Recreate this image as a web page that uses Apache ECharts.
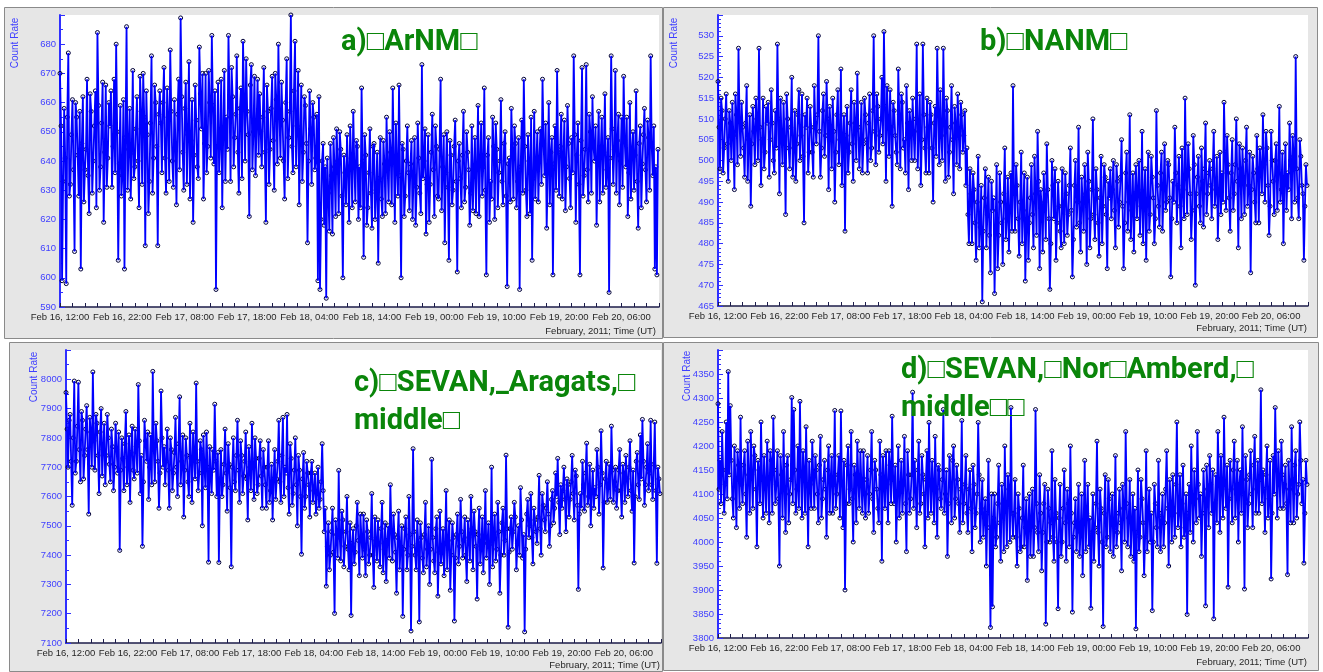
<!DOCTYPE html>
<html lang="en">
<head>
<meta charset="utf-8">
<title>Count rates, February 2011</title>
<script src="https://cdn.jsdelivr.net/npm/echarts@6/dist/echarts.min.js"></script>
<style>
  html, body { margin: 0; padding: 0; background: #fff; }
  #main { width: 1323px; height: 672px; }
</style>
</head>
<body>
<div id="main"></div>
<script>
// samples every 10 minutes, starting Feb 16, 12:00 UT (one line = 8 hours)
var stepHours = 1 / 6;

// a) ArNM
var arnm = [
  670,652,599,633,658,641,598,655,677,628,632,649,661,637,609,660,655,642,628,657,603,646,662,626,637,644,668,635,622,663,657,629,640,652,664,624,684,659,630,638,653,667,619,643,666,631,641,660,
  652,664,631,645,668,636,680,650,606,639,659,628,635,661,603,648,686,630,644,658,627,643,671,634,638,651,662,640,624,669,657,632,670,655,611,664,649,622,633,653,676,629,641,666,660,645,611,656,
  664,653,636,660,672,641,629,665,655,633,678,657,640,631,661,646,625,656,668,637,689,662,643,630,658,667,632,649,674,627,647,661,619,642,666,654,638,634,679,663,651,670,627,646,670,636,645,671,
  660,641,683,659,639,664,596,645,667,636,646,668,624,650,671,633,655,644,683,661,633,672,662,638,648,656,676,643,629,658,665,634,681,662,640,675,657,649,621,666,673,637,650,669,635,652,668,642,
  663,650,638,655,672,643,619,666,657,632,644,658,669,647,630,670,661,639,680,656,641,667,654,640,627,660,675,634,648,657,690,645,636,664,681,638,652,671,625,648,666,633,643,662,659,646,612,640,
  664,651,632,660,655,637,641,656,599,662,596,620,640,646,618,638,593,641,629,616,646,635,615,648,638,621,651,640,622,650,644,628,600,642,636,625,649,637,619,652,641,624,657,639,626,647,645,620,
  638,624,665,640,607,649,642,618,624,636,651,629,617,645,646,620,630,643,605,634,648,627,621,647,639,622,655,638,626,650,643,625,665,641,619,653,637,628,666,635,600,646,644,621,628,640,652,636,
  623,639,647,620,635,648,618,631,653,641,629,622,673,634,640,651,615,632,649,619,632,643,656,637,621,652,645,628,627,644,668,623,638,649,612,636,650,631,606,647,642,625,630,645,654,633,602,640,
  646,634,624,642,657,626,631,650,643,637,618,629,652,623,637,648,622,639,659,621,640,653,628,638,665,630,601,642,648,619,633,627,655,645,620,653,644,624,636,640,661,633,625,646,650,628,597,639,
  641,626,658,644,627,652,646,624,633,648,596,638,654,629,668,645,630,621,649,640,622,655,606,634,657,627,639,650,626,641,651,632,668,646,635,653,617,636,660,625,643,648,601,639,652,630,671,643,
  628,645,656,627,641,654,623,638,659,646,634,624,648,636,676,649,619,642,653,632,601,647,672,628,635,644,673,637,626,656,650,629,662,645,640,652,618,641,657,626,644,655,629,643,663,631,637,648,
  595,641,676,651,632,644,671,629,647,656,625,640,655,631,669,647,638,655,621,636,660,627,644,650,630,642,664,633,617,646,652,624,639,649,658,637,626,654,648,630,676,645,635,652,603,638,601,644
];

// b) NANM
var nanm = [
  519,508,498,515,512,497,503,510,516,504,495,512,509,500,514,506,493,516,511,499,527,510,501,514,508,503,496,509,518,495,505,511,489,504,513,507,499,515,510,500,527,508,494,505,515,498,502,513,
  509,514,496,505,517,509,500,497,512,503,528,510,492,515,506,499,514,505,487,516,510,503,498,508,520,496,503,512,495,504,511,517,500,506,516,501,485,511,508,515,497,502,513,508,502,496,518,509,
  504,511,530,507,496,503,512,516,501,506,519,510,493,513,508,498,515,507,490,502,511,517,499,505,522,494,505,511,483,506,513,497,502,509,517,504,495,514,509,500,521,508,498,505,514,497,504,515,
  511,505,497,509,516,500,503,512,530,507,499,516,513,502,506,510,520,504,531,513,495,518,510,501,517,508,489,514,512,506,502,499,522,511,498,516,514,503,505,497,518,509,493,512,509,500,515,507,
  500,510,528,498,507,516,494,505,528,511,503,497,515,508,497,514,511,503,490,509,513,501,527,512,499,517,506,500,527,509,495,515,512,496,502,508,518,505,492,513,509,499,516,507,498,514,511,502,
  506,512,494,503,487,480,498,492,480,497,493,485,476,490,501,479,484,494,466,483,491,498,479,487,496,482,473,495,488,491,468,484,499,474,482,497,490,485,475,492,503,481,486,496,478,488,497,483,
  518,492,483,499,494,486,477,490,502,480,488,497,471,484,496,476,485,491,499,487,479,501,492,482,507,495,474,493,489,478,497,490,481,504,493,486,469,480,500,494,486,498,476,485,495,489,483,479,
  498,489,480,497,492,482,487,494,503,488,472,481,494,500,484,490,508,485,478,496,490,483,499,492,475,502,495,479,486,493,510,487,481,498,493,485,477,491,501,480,489,499,496,487,474,495,491,498,
  486,493,500,488,479,499,495,484,490,496,505,489,474,485,497,502,483,490,511,481,488,497,478,492,499,486,493,500,482,489,507,480,491,498,476,490,502,483,487,501,496,491,480,486,512,494,489,484,
  497,502,483,493,504,488,490,500,499,491,472,486,495,490,508,497,485,494,501,489,479,503,493,486,515,496,487,504,498,492,481,488,506,499,470,492,496,501,489,485,503,495,484,498,509,487,492,497,
  500,494,486,498,507,489,493,501,481,492,502,487,497,490,514,502,488,506,499,491,483,497,505,488,492,499,510,495,479,504,498,486,503,496,487,500,508,489,494,502,473,493,501,497,490,485,506,498,
  485,503,498,492,511,499,490,507,503,494,482,489,507,500,495,487,500,504,488,497,513,490,493,502,480,496,504,488,497,493,509,500,486,506,501,490,525,498,491,486,505,501,494,492,476,489,499,494
];

// c) SEVAN, Aragats, middle
var sevanAragats = [
  7955,7830,7700,7860,7880,7720,7570,7800,7994,7680,7720,7840,7990,7760,7650,7890,7860,7660,7740,7830,7910,7760,7540,7870,7820,7700,8025,7790,7690,7880,7850,7740,7610,7820,7900,7670,7760,7850,7640,7740,7880,7800,7710,7650,7830,7770,7620,7700,
  7850,7760,7680,7820,7416,7690,7800,7730,7620,7780,7890,7640,7700,7810,7580,7750,7840,7690,7660,7830,7770,7680,7982,7790,7610,7740,7430,7650,7860,7790,7720,7820,7590,7700,7810,7640,8027,7760,7650,7850,7790,7720,7560,7680,7960,7800,7700,7770,
  7640,7720,7830,7690,7560,7800,7760,7620,7680,7750,7870,7700,7600,7780,7940,7640,7720,7810,7530,7690,7800,7740,7650,7600,7850,7730,7580,7820,7740,7660,7987,7720,7620,7680,7790,7760,7500,7810,7700,7630,7820,7700,7376,7770,7680,7610,7760,7690,
  7915,7720,7600,7750,7375,7660,7760,7600,7640,7710,7830,7680,7550,7780,7710,7630,7360,7700,7800,7650,7620,7740,7860,7690,7580,7790,7740,7610,7670,7720,7820,7660,7520,7770,7700,7620,7850,7700,7590,7800,7730,7610,7640,7730,7790,7670,7560,7760,
  7700,7640,7560,7700,7790,7580,7620,7710,7520,7660,7760,7590,7660,7720,7860,7650,7580,7740,7870,7600,7700,7680,7880,7630,7540,7780,7730,7570,7610,7690,7800,7640,7500,7740,7690,7600,7403,7660,7750,7560,7600,7720,7680,7640,7530,7680,7720,7580,
  7620,7680,7540,7610,7700,7560,7590,7650,7780,7620,7480,7560,7294,7430,7510,7350,7400,7480,7560,7410,7201,7520,7470,7390,7689,7460,7380,7550,7520,7360,7430,7480,7600,7420,7350,7510,7194,7440,7490,7370,7410,7500,7580,7450,7330,7540,7460,7390,
  7540,7420,7330,7520,7480,7370,7400,7460,7610,7400,7290,7530,7450,7380,7520,7440,7360,7490,7580,7340,7420,7510,7310,7450,7500,7390,7640,7480,7380,7540,7470,7410,7270,7460,7550,7350,7430,7500,7191,7420,7490,7530,7350,7400,7600,7470,7141,7430,
  7763,7480,7400,7350,7520,7440,7172,7510,7460,7390,7340,7470,7580,7360,7420,7500,7300,7420,7727,7460,7380,7340,7490,7530,7260,7410,7550,7370,7410,7490,7330,7440,7620,7350,7450,7520,7280,7400,7510,7460,7175,7390,7470,7540,7370,7430,7590,7480,
  7390,7450,7530,7400,7310,7520,7460,7380,7600,7490,7350,7550,7480,7430,7250,7470,7560,7370,7420,7530,7340,7460,7620,7390,7440,7510,7300,7440,7700,7360,7470,7540,7380,7420,7580,7480,7270,7400,7510,7560,7400,7450,7741,7490,7154,7410,7490,7530,
  7420,7480,7580,7530,7350,7440,7500,7400,7630,7520,7390,7470,7138,7420,7540,7590,7460,7500,7610,7460,7370,7560,7520,7480,7440,7530,7672,7490,7400,7610,7570,7520,7480,7560,7650,7540,7430,7500,7590,7620,7510,7560,7680,7600,7730,7580,7470,7640,
  7560,7620,7700,7590,7480,7660,7640,7530,7590,7650,7740,7610,7520,7690,7670,7570,7283,7540,7610,7560,7720,7640,7550,7680,7782,7570,7600,7710,7500,7620,7690,7560,7630,7600,7760,7700,7540,7640,7824,7680,7356,7580,7660,7720,7580,7630,7710,7590,
  7840,7690,7580,7650,7700,7560,7620,7690,7760,7620,7530,7710,7680,7580,7740,7660,7600,7700,7790,7620,7550,7690,7373,7600,7720,7750,7640,7590,7810,7660,7863,7720,7570,7640,7700,7780,7620,7680,7860,7640,7590,7710,7854,7620,7372,7700,7660,7610
];

// d) SEVAN, Nor Amberd, middle
var sevanNorAmberd = [
  4288,4110,4170,4080,4230,4150,4060,4120,4250,4090,4355,4140,4284,4170,4090,4050,4200,4130,4030,4190,4160,4070,4260,4120,4080,4160,4190,4100,4010,4210,4140,4060,4230,4140,4070,4200,4180,4110,3990,4170,4150,4080,4250,4130,4050,4180,4120,4060,
  4210,4130,4040,4190,4170,4060,4260,4150,4080,4120,4190,4090,3950,4180,4140,4050,4230,4110,4020,4160,4180,4040,4100,4130,4301,4080,4276,4150,4060,4110,4200,4070,4293,4140,4050,4190,4150,4060,4240,4120,3990,4170,4120,4070,4210,4140,4070,4180,
  4150,4100,4040,4160,4220,4050,4090,4130,4170,4110,4010,4150,4200,4060,4130,4180,4060,4120,4274,4070,4100,4140,4180,4050,4273,4120,4030,4170,3900,4080,4160,4200,4080,4110,4230,4090,4000,4160,4140,4040,4210,4130,4070,4190,4120,4060,4190,4100,
  4050,4130,4180,4060,4100,4150,4230,4090,4020,4170,4150,4110,4070,4040,4210,4140,3960,4180,4130,4070,4190,4120,4040,4190,4160,4080,4262,4130,4080,4160,4000,4100,4200,4050,4110,4170,4060,4120,4220,4080,3980,4190,4140,4060,4090,4140,4312,4070,
  4170,4110,4030,4150,4210,4060,4080,4180,4140,4100,3990,4130,4190,4050,4249,4120,4060,4170,4120,4040,4220,4110,4010,4160,4150,4090,4070,4130,4276,4060,4100,4150,3970,4080,4180,4120,4040,4170,4200,4050,4090,4160,4130,4080,4020,4110,4253,4040,
  4080,4120,4180,4060,4020,4110,4150,4070,3980,4160,4120,4030,4060,4100,4249,4140,4000,4070,4130,4010,4050,4090,3950,4060,4170,4030,3822,4100,3865,4050,4100,3990,4010,4080,4160,4040,3960,4120,4080,3980,4200,4070,3990,4140,4110,4000,4280,4060,
  4010,4060,4130,4010,3950,4100,4070,3980,3990,4050,4160,3990,4030,4090,3920,4040,4100,3970,4050,4110,3970,4030,4276,4080,4020,3980,4140,4060,3940,4020,4080,4120,3829,4000,4110,4070,4000,4040,4190,4010,3960,4130,4060,4000,3861,4050,4120,3970,
  4000,4070,4150,4040,3960,4110,4080,3990,4200,4060,3854,4010,4040,4090,3980,4030,4120,3970,4020,4100,3930,4040,4170,3980,4060,4120,3990,4050,3862,4020,4100,3960,4030,4080,4210,4020,3950,4110,4070,4000,3824,4060,4140,3990,4010,4130,4090,3980,
  4050,4100,3970,4030,4180,3990,4020,4060,4110,4040,3940,4120,4070,4000,4230,4080,3990,4050,4130,3970,4040,4100,3960,4070,3819,4020,4150,3980,4010,4130,4090,4040,3930,4010,4190,3980,4060,4110,4000,4060,3857,4000,4120,4080,4030,3990,4170,4060,
  3980,4050,4100,3990,4040,4110,4190,4070,3950,4130,4080,4000,4140,4060,4010,4120,4250,4030,4060,4140,3990,4080,4160,4010,4030,4100,3849,4060,4120,4020,4200,4090,4000,4150,4090,4040,4230,4120,4050,4100,3970,4060,4150,4090,3867,4160,4110,4030,
  4180,4120,4060,4150,3840,4080,4140,4040,4230,4130,4020,4180,4110,4050,4260,4120,4070,4160,3906,4090,4170,4110,4040,4150,4210,4050,4100,4170,4000,4120,4150,4060,4240,4100,3902,4180,4130,4030,4080,4140,4190,4100,4030,4160,4220,4060,4110,4170,
  4060,4130,4317,4080,4150,4110,4020,4140,4200,4050,4090,4170,3923,4060,4180,4100,4280,4150,4050,4190,4130,4070,4210,4140,4070,4120,4160,4080,3932,4170,4110,4040,4240,4130,4040,4160,4190,4050,4100,4120,4250,4170,4080,4130,3956,4060,4170,4120
];

var titles = [
  ['a)□ArNM□'],
  ['b)□NANM□'],
  ['c)□SEVAN,_Aragats,□', 'middle□'],
  ['d)□SEVAN,□Nor□Amberd,□', 'middle□□']
];
// y axis: min, max, label step, minor splits
var yRanges = [[590, 690, 10, 2], [465, 535, 5, 5], [7100, 8100, 100, 2], [3800, 4400, 50, 5]];

// layout of the four boxes
var panels = [
  { data: arnm, grid: [60, 15, 599, 292], frame: [4, 7, 658, 331], name: [15, 43], foot: [656, 331], title: [341, 43] },
  { data: nanm, grid: [718, 15, 590, 291], frame: [663, 7, 654, 330], name: [674, 43], foot: [1307, 328], title: [980, 43] },
  { data: sevanAragats, grid: [66, 350, 595, 293], frame: [9, 342, 653, 329], name: [34, 377], foot: [660, 665], title: [354, 384] },
  { data: sevanNorAmberd, grid: [718, 350, 590, 288], frame: [663, 342, 655, 328], name: [687, 376], foot: [1307, 662], title: [901, 371] }
];

function timeLabel(h) {
  var r = Math.round(h);
  if (Math.abs(h - r) > 1e-6 || r % 10 !== 0) return '';
  var t = 12 + r;
  var day = 16 + Math.floor(t / 24);
  var hr = t % 24;
  return 'Feb ' + day + ', ' + (hr < 10 ? '0' + hr : hr) + ':00';
}

var blue = '#2f2fff';
var labelFont = 'Liberation Sans, Arial, sans-serif';
var grids = [], xAxes = [], yAxes = [], series = [], graphics = [];

panels.forEach(function (p, i) {
  var yr = yRanges[i];
  var points = p.data.map(function (v, k) { return [k * stepHours, v]; });
  graphics.push({
    type: 'rect', z: -10, silent: true,
    shape: { x: p.frame[0] + 0.5, y: p.frame[1] + 0.5, width: p.frame[2], height: p.frame[3] },
    style: { fill: '#e6e6e6', stroke: '#8a8a8a', lineWidth: 1 }
  });
  grids.push({
    left: p.grid[0], top: p.grid[1], width: p.grid[2], height: p.grid[3],
    show: true, backgroundColor: '#fff', borderWidth: 0
  });
  xAxes.push({
    type: 'value', gridIndex: i, min: 0, max: 96, interval: 2,
    axisLine: { show: true, onZero: false, lineStyle: { color: '#1c1c4a', width: 1.5 } },
    axisTick: { show: true, inside: true, length: 4, lineStyle: { color: '#1c1c4a' } },
    axisLabel: { color: '#262626', fontSize: 9.5, fontFamily: labelFont, margin: 5, formatter: timeLabel },
    splitLine: { show: false }
  });
  yAxes.push({
    type: 'value', gridIndex: i, min: yr[0], max: yr[1], interval: yr[2],
    axisLine: { show: true, onZero: false, lineStyle: { color: blue, width: 2 } },
    axisTick: { show: true, inside: true, length: 5, lineStyle: { color: blue } },
    minorTick: { show: true, splitNumber: yr[3], length: 3, lineStyle: { color: blue } },
    axisLabel: { color: '#4040ff', fontSize: 9.5, fontFamily: labelFont, margin: 4, showMaxLabel: false,
      formatter: function (v) { return String(v); } },
    splitLine: { show: false }
  });
  // markers underneath, the joining line on top
  series.push({
    type: 'line', xAxisIndex: i, yAxisIndex: i, silent: true, z: 2,
    data: points,
    symbol: 'circle', symbolSize: 4, showAllSymbol: true,
    lineStyle: { width: 0, opacity: 0 },
    itemStyle: { color: 'rgba(0,0,0,0)', borderColor: '#000038', borderWidth: 1 }
  });
  series.push({
    type: 'line', xAxisIndex: i, yAxisIndex: i, silent: true, z: 3,
    data: points, showSymbol: false,
    lineStyle: { color: '#0000ff', width: 1.8 }
  });
  graphics.push({
    type: 'text', z: 50, silent: true, x: p.name[0], y: p.name[1], rotation: Math.PI / 2,
    style: { text: 'Count Rate', fill: '#4040ff', font: '10px ' + labelFont,
      align: 'center', verticalAlign: 'middle', textAlign: 'center', textVerticalAlign: 'middle' }
  });
  graphics.push({
    type: 'text', z: 50, silent: true, x: p.foot[0], y: p.foot[1],
    style: { text: 'February, 2011; Time (UT)', fill: '#262626', font: '9.5px ' + labelFont,
      align: 'right', verticalAlign: 'middle', textAlign: 'right', textVerticalAlign: 'middle' }
  });
  titles[i].forEach(function (line, k) {
    graphics.push({
      type: 'text', z: 60, silent: true, x: p.title[0], y: p.title[1] + k * 38,
      style: { text: line, fill: '#0a850a', font: 'bold 29px Roboto, "Open Sans", sans-serif',
        align: 'left', verticalAlign: 'middle', textAlign: 'left', textVerticalAlign: 'middle' }
    });
  });
});

var myChart = echarts.init(document.getElementById('main'));
myChart.setOption({
  animation: false,
  backgroundColor: '#fff',
  grid: grids,
  xAxis: xAxes,
  yAxis: yAxes,
  series: series,
  graphic: graphics
});
</script>
</body>
</html>
